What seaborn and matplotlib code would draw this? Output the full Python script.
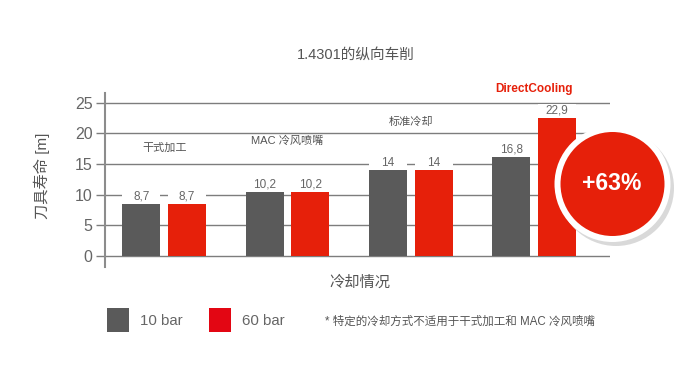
import matplotlib
matplotlib.use("Agg")
import matplotlib.pyplot as plt
from matplotlib.patches import Circle, Rectangle
import pandas as pd
import seaborn as sns

categories = ["干式加工", "MAC 冷风喷嘴", "标准冷却", "DirectCooling"]
pressures = ["10 bar", "60 bar"]
# heights as drawn in the picture, the printed labels differ a little
bar_10 = [8.5, 10.4, 14.0, 16.1]
bar_60 = [8.5, 10.4, 14.0, 22.6]
labels_10 = ["8,7", "10,2", "14", "16,8"]
labels_60 = ["8,7", "10,2", "14", "22,9"]
yticks = [0, 5, 10, 15, 20, 25]

GREY = "#5a5a5a"
RED = "#e6200a"
TEXT = "#666666"
LINE = "#7d7d7d"

sns.set_theme(style="white")
plt.rcParams["font.family"] = ["Liberation Sans", "Noto Sans CJK SC", "DejaVu Sans"]

df = pd.DataFrame({
    "cat": categories * 2,
    "bar": [pressures[0]] * 4 + [pressures[1]] * 4,
    "life": bar_10 + bar_60,
})

fig = plt.figure(figsize=(6.86, 3.8), dpi=100)
ax = fig.add_axes([105 / 686, 113 / 380, 505 / 686, 174 / 380])

sns.barplot(data=df, x="cat", y="life", hue="bar", palette=[GREY, RED],
            width=0.74, gap=0.165, saturation=1, legend=True, ax=ax, zorder=3,
            linewidth=0)

ax.set_xlim(-0.48, 3.615)
ax.set_ylim(-1.79, 26.6)
ax.set_xticks([])
ax.set_yticks(yticks)
ax.set_xlabel("")
ax.set_ylabel("")
ax.grid(axis="y", color=LINE, lw=1, zorder=0)
ax.set_axisbelow(True)
ax.tick_params(axis="y", left=True, length=6.5, width=1, color=LINE,
               labelsize=11.5, labelcolor=TEXT, pad=2.5)
sns.despine(ax=ax, top=True, right=True, bottom=True)
ax.spines["left"].set_color("#8c8c8c")
ax.spines["left"].set_linewidth(1.5)

# white strip over the gridlines behind each value label
for cont, labs in zip(ax.containers, [labels_10, labels_60]):
    for p in cont:
        ax.add_patch(Rectangle((p.get_x(), p.get_height()), p.get_width(), 2.2,
                               color="white", lw=0, zorder=2))
    ax.bar_label(cont, labels=labs, padding=1, fontsize=8.5, color=TEXT, zorder=4)

# group captions
ax.text(0, 17.6, categories[0], ha="center", va="center", fontsize=8, color="#555555")
ax.text(1, 18.8, categories[1], ha="center", va="center", fontsize=8, color="#555555")
ax.text(2, 21.9, categories[2], ha="center", va="center", fontsize=8, color="#555555")
ax.text(3, 27.3, categories[3], ha="center", va="center", fontsize=8.5, color=RED,
        fontweight="bold")

# +63% badge
tr = fig.dpi_scale_trans
ax.add_patch(Circle((6.16, 1.92), 0.58, transform=tr, color="#d9d9d9", lw=0,
                    clip_on=False, zorder=8))
ax.add_patch(Circle((6.125, 1.96), 0.58, transform=tr, color="white", lw=0,
                    clip_on=False, zorder=9))
ax.add_patch(Circle((6.125, 1.96), 0.52, transform=tr, color=RED, lw=0,
                    clip_on=False, zorder=10))
ax.text(6.115, 1.96, "+63%", transform=tr, ha="center", va="center", fontsize=16.5,
        fontweight="bold", color="white", zorder=11)

fig.text(356 / 686, 1 - 55 / 380, "1.4301的纵向车削", ha="center", va="center",
         fontsize=10.5, color="#555555")
fig.text(360 / 686, 1 - 283 / 380, "冷却情况", ha="center", va="center",
         fontsize=11, color="#555555")
fig.text(42 / 686, 1 - 176 / 380, "刀具寿命 [m]", ha="center", va="center", rotation=90,
         fontsize=11, color="#555555")
fig.text(325 / 686, 1 - 322 / 380, "* 特定的冷却方式不适用于干式加工和 MAC 冷风喷嘴",
         ha="left", va="center", fontsize=8.3, color="#555555")

handles, names = ax.get_legend_handles_labels()
ax.get_legend().remove()
handles[1].set_facecolor("#e30613")
fig.legend(handles, names, loc="center left", bbox_to_anchor=(95 / 686, 1 - 320 / 380),
           ncol=2, frameon=False, fontsize=10.8, labelcolor=TEXT, handlelength=1.47,
           handleheight=2.1, handletextpad=0.75, columnspacing=1.75, borderpad=0.3)

fig.savefig("out.png", dpi=100, facecolor="white")
